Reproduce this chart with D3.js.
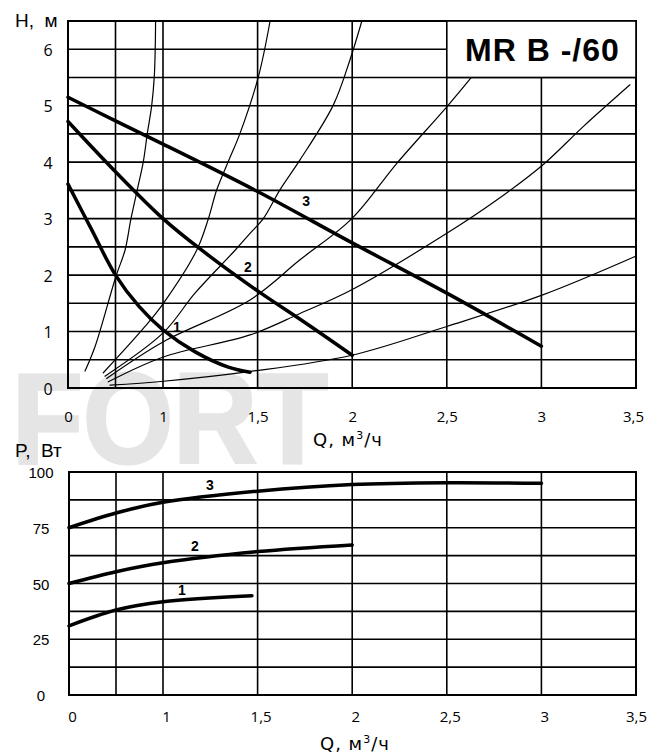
<!DOCTYPE html>
<html>
<head>
<meta charset="utf-8">
<script src="https://cdn.jsdelivr.net/npm/d3@7"></script>
<style>
  body { margin: 0; background: #fff; }
  svg { display: block; }
</style>
</head>
<body>
<div id="chart"></div>
<script>
'use strict';

// grid and tick values
const qGrid = [0, 0.5, 1, 1.5, 2, 2.5, 3, 3.5];
const qLabels = [0, 1, 1.5, 2, 2.5, 3, 3.5];
const hGrid = [0, 0.5, 1, 1.5, 2, 2.5, 3, 3.5, 4, 4.5, 5, 5.5, 6, 6.5];
const hLabels = [0, 1, 2, 3, 4, 5, 6];
const pGrid = [0, 12.5, 25, 37.5, 50, 62.5, 75, 87.5, 100];
const pLabels = [0, 25, 50, 75, 100];

// pump curves H(Q), speeds 1..3
const head1 = [[0, 3.61], [0.25, 2.8], [0.5, 2.0], [0.75, 1.44], [1.0, 1.03], [1.17, 0.64], [1.345, 0.37], [1.46, 0.28]];
const head2 = [[0, 4.72], [0.5, 3.83], [1.0, 3.0], [1.205, 2.44], [1.5, 1.72], [1.75, 1.16], [2.0, 0.58]];
const head3 = [[0, 5.15], [0.5, 4.73], [1.0, 4.32], [1.5, 3.48], [2.0, 2.57], [2.5, 1.68], [3.0, 0.74]];

// system curves (thin)
const sysA = [[0.179, 0.30], [0.284, 0.73], [0.505, 1.98], [0.60, 2.44], [0.663, 3.0], [0.729, 3.51], [0.793, 4.01], [0.835, 4.51], [0.881, 5.0], [0.908, 5.51], [0.918, 6.0], [0.922, 6.5]];
const sysB = [[0.372, 0.27], [0.811, 1.09], [1.002, 1.50], [1.178, 2.44], [1.24, 3.0], [1.284, 3.51], [1.345, 4.01], [1.407, 4.51], [1.504, 5.51], [1.566, 6.5]];
const sysC = [[0.389, 0.21], [1.002, 0.98], [1.169, 1.68], [1.381, 2.44], [1.46, 2.74], [1.53, 3.0], [1.618, 3.51], [1.724, 4.04], [1.90, 5.01], [1.988, 5.81], [2.051, 6.5]];
const sysD = [[0.407, 0.17], [1.002, 0.82], [1.46, 1.56], [1.724, 2.27], [1.998, 3.0], [2.236, 3.98], [2.5, 4.98], [2.632, 5.51]];
const sysE = [[0.424, 0.11], [1.002, 0.55], [1.46, 0.94], [1.724, 1.32], [1.998, 1.74], [2.5, 2.74], [2.764, 3.33], [3.007, 3.95], [3.221, 4.63], [3.468, 5.37]];
const sysF = [[0.442, 0.05], [1.002, 0.12], [1.455, 0.29], [1.998, 0.58], [2.5, 1.09], [3.007, 1.65], [3.495, 2.33]];

// power curves P(Q)
const power1 = [[0, 31], [0.5, 38.1], [1.0, 41.8], [1.47, 44.5]];
const power2 = [[0, 50], [0.5, 55.3], [1.0, 59.3], [1.5, 64.3], [2.0, 67.3]];
const power3 = [[0, 75], [0.5, 81.6], [1.0, 86.4], [1.5, 91.4], [2.0, 94.4], [2.5, 95.2], [3.0, 94.9]];

// curve number labels [name, Q, value]
const headTags = [['1', 1.074, 1.08], ['2', 1.449, 2.14], ['3', 1.756, 3.31]];
const powerTags = [['1', 1.1, 47], ['2', 1.169, 66.8], ['3', 1.248, 94.2]];

const width = 660;
const height = 754;
const numFmt = d => String(d).replace('.', ',');

const svg = d3.select('#chart').append('svg')
  .attr('width', width)
  .attr('height', height);

// watermark
svg.append('text')
  .attr('x', 12)
  .attr('y', 463)
  .attr('textLength', 316)
  .attr('lengthAdjust', 'spacingAndGlyphs')
  .style('font-family', 'Liberation Sans, Arial, sans-serif')
  .style('font-weight', 'bold')
  .style('font-size', '128px')
  .style('fill', '#e5e5e5')
  .style('stroke', '#e5e5e5')
  .style('stroke-width', 3)
  .text('FORT');

const xScale = d3.scaleLinear().domain([0, 1, 3.5]).range([68, 163, 636]);
const xScaleP = d3.scaleLinear().domain([0, 1, 3.5]).range([69, 163, 636]);
const yScaleH = d3.scaleLinear().domain([0, 6.5]).range([388, 21]);
const yScaleP = d3.scaleLinear().domain([0, 100]).range([695, 472]);

function drawGrid(g, xs, ys, yValues) {
  const [x0, x1] = [xs(qGrid[0]), xs(qGrid[qGrid.length - 1])];
  const [y0, y1] = [ys(yValues[0]), ys(yValues[yValues.length - 1])];

  g.selectAll('.vline')
    .data(qGrid)
    .enter().append('line')
    .attr('class', 'vline')
    .attr('x1', d => xs(d)).attr('x2', d => xs(d))
    .attr('y1', y0).attr('y2', y1)
    .style('stroke', '#000')
    .style('stroke-width', 1.6);

  g.selectAll('.hline')
    .data(yValues)
    .enter().append('line')
    .attr('class', 'hline')
    .attr('x1', x0).attr('x2', x1)
    .attr('y1', d => ys(d)).attr('y2', d => ys(d))
    .style('stroke', '#000')
    .style('stroke-width', 1.6);

  g.append('rect')
    .attr('x', x0).attr('y', y1)
    .attr('width', x1 - x0).attr('height', y0 - y1)
    .style('fill', 'none')
    .style('stroke', '#000')
    .style('stroke-width', 2);
}

function drawAxes(g, xs, ys, yLabels, yLabelX, yFont, yFontSize, xLabelY, xShift) {
  const xAxis = d3.axisBottom(xs)
    .tickValues(qLabels)
    .tickSize(0)
    .tickFormat(numFmt);

  const xAxisEl = g.append('g')
    .attr('class', 'x-axis')
    .attr('transform', 'translate(' + xShift + ',' + xLabelY + ')')
    .call(xAxis);
  xAxisEl.select('.domain').remove();
  xAxisEl.selectAll('text')
    .attr('dy', null)
    .attr('y', 0)
    .attr('dominant-baseline', 'central')
    .style('font-family', 'Open Sans, sans-serif')
    .style('font-size', '15px')
    .style('fill', '#000');
  xAxisEl.selectAll('.tick')
    .filter(d => d === 3.5)
    .select('text').attr('x', -3);

  const yAxis = d3.axisLeft(ys)
    .tickValues(yLabels)
    .tickSize(0)
    .tickFormat(d3.format('d'));

  const yAxisEl = g.append('g')
    .attr('class', 'y-axis')
    .attr('transform', 'translate(' + yLabelX + ',0)')
    .call(yAxis);
  yAxisEl.select('.domain').remove();
  yAxisEl.selectAll('text')
    .attr('x', 0)
    .attr('dy', null)
    .attr('text-anchor', 'middle')
    .attr('dominant-baseline', 'central')
    .style('font-family', yFont)
    .style('font-size', yFontSize)
    .style('fill', '#000');
}

function drawCurve(g, data, xs, ys, strokeWidth) {
  const line = d3.line()
    .x(d => xs(d[0]))
    .y(d => ys(d[1]))
    .curve(d3.curveCatmullRom.alpha(0.5));
  g.append('path')
    .datum(data)
    .attr('d', line)
    .style('fill', 'none')
    .style('stroke', '#000')
    .style('stroke-width', strokeWidth)
    .style('stroke-linecap', 'round')
    .style('stroke-linejoin', 'round');
}

function drawTags(g, tags, xs, ys) {
  g.selectAll('.tag')
    .data(tags)
    .enter().append('text')
    .attr('class', 'tag')
    .attr('x', d => xs(d[1]))
    .attr('y', d => ys(d[2]))
    .attr('text-anchor', 'middle')
    .attr('dominant-baseline', 'central')
    .style('font-family', 'Liberation Sans, Arial, sans-serif')
    .style('font-weight', 'bold')
    .style('font-size', '14px')
    .text(d => d[0]);
}

function axisTitle(g, x, y, main, sup, rest) {
  const t = g.append('text')
    .attr('x', x)
    .attr('y', y)
    .style('font-family', 'DejaVu Sans, sans-serif')
    .style('font-size', '18px')
    .style('letter-spacing', '1px')
    .style('fill', '#000');
  t.append('tspan').text(main);
  t.append('tspan').attr('dy', -7).style('font-size', '11px').text(sup);
  t.append('tspan').attr('dy', 7).text(rest);
}

// ---- head chart ----
const headChart = svg.append('g');
drawGrid(headChart, xScale, yScaleH, hGrid);

[sysA, sysB, sysC, sysD, sysE, sysF].forEach(s => drawCurve(headChart, s, xScale, yScaleH, 1.2));
[head1, head2, head3].forEach(s => drawCurve(headChart, s, xScale, yScaleH, 3.5));
drawTags(headChart, headTags, xScale, yScaleH);

// model title box over the upper right cells
headChart.append('rect')
  .attr('x', xScale(2.5))
  .attr('y', yScaleH(6.5))
  .attr('width', xScale(3.5) - xScale(2.5))
  .attr('height', yScaleH(5.5) - yScaleH(6.5))
  .style('fill', '#fff')
  .style('stroke', '#000')
  .style('stroke-width', 1.6);

headChart.append('text')
  .attr('x', (xScale(2.5) + xScale(3.5)) / 2 + 1)
  .attr('y', 61)
  .attr('text-anchor', 'middle')
  .style('font-family', 'Liberation Sans, Arial, sans-serif')
  .style('font-weight', 'bold')
  .style('font-size', '32px')
  .style('letter-spacing', '1px')
  .text('MR B -/60');

drawAxes(headChart, xScale, yScaleH, hLabels, 48, 'Open Sans, sans-serif', '16px', 416, 0);

headChart.append('text')
  .attr('x', 15).attr('y', 27)
  .style('font-family', 'Liberation Sans, Arial, sans-serif')
  .style('font-size', '19px')
  .attr('xml:space', 'preserve')
  .text('H,  м');
axisTitle(headChart, 313, 446, 'Q, м', '3', '/ч');

// ---- power chart ----
const powerChart = svg.append('g');
drawGrid(powerChart, xScaleP, yScaleP, pGrid);
[power1, power2, power3].forEach(s => drawCurve(powerChart, s, xScaleP, yScaleP, 3.5));
drawTags(powerChart, powerTags, xScaleP, yScaleP);

drawAxes(powerChart, xScaleP, yScaleP, pLabels, 41, 'Liberation Sans, Arial, sans-serif', '15px', 716, 3);

powerChart.append('text')
  .attr('x', 15).attr('y', 457)
  .style('font-family', 'Liberation Sans, Arial, sans-serif')
  .style('font-size', '19px')
  .attr('xml:space', 'preserve')
  .text('P,  Вт');
axisTitle(powerChart, 320, 750, 'Q, м', '3', '/ч');
</script>
</body>
</html>
